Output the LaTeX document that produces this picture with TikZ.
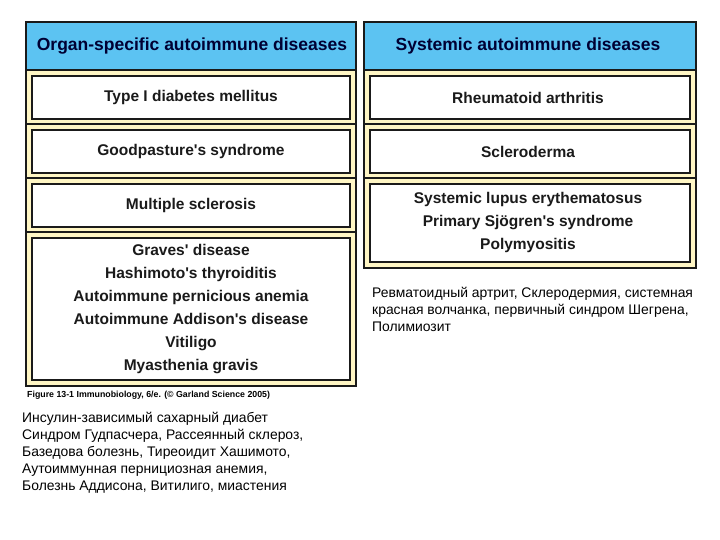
\documentclass[tikz,border=0pt]{standalone}
\usepackage{fontspec}
\usepackage{textcomp}
\setmainfont{Liberation Sans}
\definecolor{hdr}{HTML}{5CC3F2}
\definecolor{ylw}{HTML}{FFF6C4}
\definecolor{dk}{HTML}{1A1A1A}
\newcommand{\ap}{\textquotesingle}
\tikzset{
 panel/.style={draw=dk,line width=1.6pt,fill=ylw},
 head/.style={draw=dk,line width=1.6pt,fill=hdr},
 cell/.style={draw=dk,line width=1.6pt,fill=white},
 sep/.style={draw=dk,line width=1.6pt},
 lbl/.style={font=\fontsize{15.5}{18}\selectfont\bfseries,text=dk,align=center},
 hlbl/.style={font=\fontsize{17.5}{19}\selectfont\bfseries,text=black!80!blue},
 ru/.style={font=\fontsize{13.9}{17}\selectfont,align=left,anchor=north west,inner sep=0pt}
}
\begin{document}
\begin{tikzpicture}[x=1pt,y=-1pt]
\useasboundingbox (0,0) rectangle (720,540);
% left panel
\fill[ylw] (26,70) rectangle (356,386);
\draw[head] (26,22) rectangle (356,70);
\node[hlbl] (lh) at (192,46) {Organ-specific autoimmune diseases};
\draw[sep] (26,70) rectangle (356,386);
\draw[sep] (26,124) -- (356,124) (26,178) -- (356,178) (26,232) -- (356,232);
\draw[cell] (32,76) rectangle (350,119);
\draw[cell] (32,130) rectangle (350,173);
\draw[cell] (32,184) rectangle (350,227);
\draw[cell] (32,238) rectangle (350,380);
\node[lbl] (l1) at (191,97.5) {Type I diabetes mellitus};
\node[lbl] (l2) at (191,151.5) {Goodpasture\ap s syndrome};
\node[lbl] (l3) at (191,205.5) {Multiple sclerosis};
\node[lbl,font=\fontsize{15.5}{23}\selectfont\bfseries] (l4) at (191,309) {Graves\ap{} disease\\Hashimoto\ap s thyroiditis\\Autoimmune pernicious anemia\\Autoimmune Addison\ap s disease\\Vitiligo\\Myasthenia gravis};
\node[anchor=west,inner sep=0pt,font=\fontsize{8.8}{9}\selectfont\bfseries] (cap) at (27,395) {Figure 13-1 Immunobiology, 6/e. (© Garland Science 2005)};
% right panel
\fill[ylw] (364,70) rectangle (696,268);
\draw[head] (364,22) rectangle (696,70);
\node[hlbl] (rh) at (528,46) {Systemic autoimmune diseases};
\draw[sep] (364,70) rectangle (696,268);
\draw[sep] (364,124) -- (696,124) (364,178) -- (696,178);
\draw[cell] (370,76) rectangle (690,119);
\draw[cell] (370,130) rectangle (690,173);
\draw[cell] (370,184) rectangle (690,262);
\node[lbl] (r1) at (528,97.5) {Rheumatoid arthritis};
\node[lbl] (r2) at (528,151.5) {Scleroderma};
\node[lbl,font=\fontsize{15.5}{23}\selectfont\bfseries] (r3) at (528,222) {Systemic lupus erythematosus\\Primary Sjögren\ap s syndrome\\Polymyositis};
% russian
\node[ru] (rr) at (372,287) {Ревматоидный артрит, Склеродермия, системная\\красная волчанка, первичный синдром Шегрена,\\Полимиозит};
\node[ru] (rl) at (22,412) {Инсулин-зависимый сахарный диабет\\Синдром Гудпасчера, Рассеянный склероз,\\Базедова болезнь, Тиреоидит Хашимото,\\Аутоиммунная пернициозная анемия,\\Болезнь Аддисона, Витилиго, миастения};
\end{tikzpicture}
\end{document}
